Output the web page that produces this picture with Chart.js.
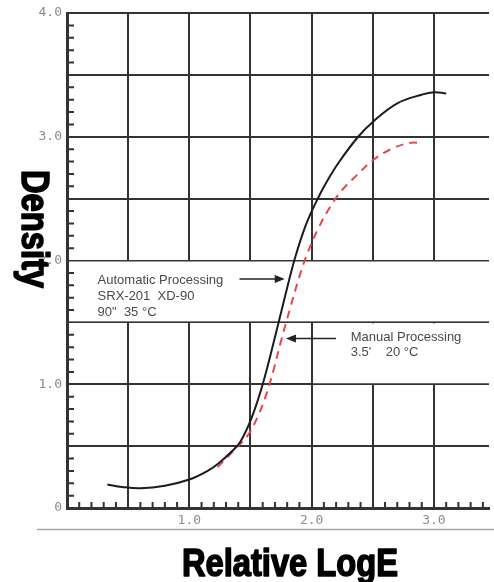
<!DOCTYPE html>
<html>
<head>
<meta charset="utf-8">
<script src="https://cdn.jsdelivr.net/npm/chart.js"></script>
<style>
  body { margin: 0; background: #fff; }
  #density_chart { display: block; }
</style>
</head>
<body>
<canvas id="density_chart" width="494" height="582"></canvas>
<script>
// characteristic curves
var autoLogE      = [0.33, 0.45, 0.6, 0.8, 1.0, 1.15, 1.25, 1.35, 1.42, 1.51, 1.6, 1.7, 1.8, 1.87, 1.95, 2.04, 2.12, 2.22, 2.38, 2.5, 2.7, 2.9, 3.0, 3.1];
var autoDensity   = [0.19, 0.17, 0.16, 0.18, 0.23, 0.30, 0.37, 0.46, 0.54, 0.73, 1.0, 1.38, 1.78, 2.04, 2.28, 2.48, 2.63, 2.79, 3.0, 3.12, 3.27, 3.34, 3.36, 3.35];
var manualLogE    = [1.23, 1.37, 1.48, 1.56, 1.63, 1.69, 1.75, 1.82, 1.9, 1.97, 2.06, 2.15, 2.25, 2.37, 2.5, 2.65, 2.8, 2.9];
var manualDensity = [0.33, 0.47, 0.59, 0.74, 0.92, 1.12, 1.35, 1.60, 1.87, 2.07, 2.27, 2.43, 2.57, 2.69, 2.81, 2.90, 2.95, 2.95];

var xLabelValues = [1, 2, 3];
var xLabels      = ['1.0', '2.0', '3.0'];
var yLabelValues = [0, 1, 2, 3, 4];
var yLabels      = ['0', '1.0', '2.0', '3.0', '4.0'];

var autoNote   = ['Automatic Processing', 'SRX-201  XD-90', '90"  35 \u00B0C'];
var manualNote = ['Manual Processing', "3.5'    20 \u00B0C"];

function toPoints(xs, ys) {
    var pts = [];
    for (let i = 0; i < xs.length; i++) {
        pts.push({x: xs[i], y: ys[i]});
    }
    return pts;
}

function arrow(ctx, x1, y1, x2, y2) {
    var dir = x2 > x1 ? 1 : -1;
    ctx.beginPath();
    ctx.moveTo(x1, y1);
    ctx.lineTo(x2 - dir * 8, y2);
    ctx.stroke();
    ctx.beginPath();
    ctx.moveTo(x2, y2);
    ctx.lineTo(x2 - dir * 10, y2 - 4);
    ctx.lineTo(x2 - dir * 10, y2 + 4);
    ctx.closePath();
    ctx.fill();
}

function boldText(ctx, text) {
    ctx.fillText(text, 0, 0);
    ctx.strokeText(text, 0, 0);
}

var sheetExtras = {
    id: 'sheetExtras',
    beforeDatasetsDraw: function (chart) {
        var ctx = chart.ctx, x = chart.scales.x, y = chart.scales.y, area = chart.chartArea;
        ctx.save();
        // the notes sit on white, grid lines stop there
        ctx.fillStyle = '#fff';
        var x0 = x.getPixelForValue(0) + 2;
        ctx.fillRect(x0, y.getPixelForValue(2.0) + 1, area.right - x0, y.getPixelForValue(1.5) - y.getPixelForValue(2.0) - 2);
        var x2 = x.getPixelForValue(2.0) + 1.5;
        ctx.fillRect(x2, y.getPixelForValue(1.5) + 1, area.right - x2, y.getPixelForValue(1.0) - y.getPixelForValue(1.5) - 2);

        // minor ticks pointing inward
        ctx.strokeStyle = '#333';
        ctx.lineWidth = 2;
        ctx.beginPath();
        for (let i = 1; i < 40; i++) {
            if (i % 5 == 0) continue;
            var py = y.getPixelForValue(i / 10);
            ctx.moveTo(area.left, py);
            ctx.lineTo(area.left + 7, py);
        }
        for (let j = 1; j < 35; j++) {
            if (j % 5 == 0) continue;
            var px = x.getPixelForValue(j / 10);
            ctx.moveTo(px, area.bottom);
            ctx.lineTo(px, area.bottom - 6);
        }
        ctx.stroke();
        ctx.restore();
    },
    afterDraw: function (chart) {
        var ctx = chart.ctx, x = chart.scales.x, y = chart.scales.y;
        ctx.save();

        // notes + arrows
        ctx.fillStyle = '#4a4a4a';
        ctx.strokeStyle = '#222';
        ctx.lineWidth = 1.5;
        ctx.font = '13px "Liberation Sans", Arial, sans-serif';
        ctx.textAlign = 'left';
        ctx.textBaseline = 'middle';
        var ax = x.getPixelForValue(0.25), ay = y.getPixelForValue(1.84);
        for (let i = 0; i < autoNote.length; i++) {
            ctx.fillText(autoNote[i], ax, ay + i * 16);
        }
        var mx = x.getPixelForValue(2.32), my = y.getPixelForValue(1.38);
        for (let i = 0; i < manualNote.length; i++) {
            ctx.fillText(manualNote[i], mx, my + i * 15);
        }
        ctx.fillStyle = '#222';
        arrow(ctx, x.getPixelForValue(1.41), y.getPixelForValue(1.85), x.getPixelForValue(1.78), y.getPixelForValue(1.85));
        arrow(ctx, x.getPixelForValue(2.2), y.getPixelForValue(1.37), x.getPixelForValue(1.79), y.getPixelForValue(1.37));

        // rule under the axis
        ctx.strokeStyle = '#a6a6a6';
        ctx.lineWidth = 1.5;
        ctx.beginPath();
        ctx.moveTo(37, 529.5);
        ctx.lineTo(chart.width, 529.5);
        ctx.stroke();

        // axis titles, heavy
        ctx.fillStyle = '#000';
        ctx.strokeStyle = '#000';
        ctx.lineWidth = 1.6;
        ctx.lineJoin = 'round';
        ctx.font = 'bold 38px "Liberation Sans", Arial, sans-serif';
        ctx.textAlign = 'center';
        ctx.textBaseline = 'alphabetic';
        ctx.save();
        ctx.translate(290, 576);
        ctx.scale(0.86, 1);
        boldText(ctx, 'Relative LogE');
        ctx.restore();
        ctx.save();
        ctx.translate(22, 229);
        ctx.rotate(Math.PI / 2);
        ctx.scale(0.86, 1);
        boldText(ctx, 'Density');
        ctx.restore();

        ctx.restore();
    }
};

function gridColor(c) {
    return c.tick && c.tick.value % 0.5 === 0 ? '#333' : 'rgba(0,0,0,0)';
}

var chartdata = {
    datasets: [
        {
            label: 'Automatic Processing',
            data: toPoints(autoLogE, autoDensity),
            borderColor: '#1c1c1c',
            borderWidth: 2,
            pointRadius: 0,
            tension: 0.4,
            fill: false
        },
        {
            label: 'Manual Processing',
            data: toPoints(manualLogE, manualDensity),
            borderColor: '#e8474a',
            borderWidth: 2,
            borderDash: [8, 6],
            pointRadius: 0,
            tension: 0.4,
            fill: false
        }
    ]
};

new Chart(document.getElementById('density_chart'), {
    type: 'line',
    data: chartdata,
    plugins: [sheetExtras],
    options: {
        responsive: false,
        animation: false,
        layout: { padding: { top: 13, left: 0, right: 0, bottom: 0 } },
        plugins: { legend: { display: false }, tooltip: { enabled: false } },
        scales: {
            x: {
                type: 'linear',
                min: 0,
                max: 3.45,
                afterFit: function (scale) { scale.height = 74; },
                border: { color: '#333', width: 3 },
                grid: { color: gridColor, lineWidth: 2, drawTicks: false },
                ticks: {
                    stepSize: 0.5,
                    autoSkip: false,
                    maxRotation: 0,
                    padding: 5,
                    color: '#8c8c8c',
                    font: { family: '"DejaVu Sans Mono", monospace', size: 13 },
                    callback: function (value) {
                        var k = xLabelValues.indexOf(value);
                        return k >= 0 ? xLabels[k] : '';
                    }
                }
            },
            y: {
                min: 0,
                max: 4,
                afterFit: function (scale) { scale.width = 67; },
                border: { color: '#333', width: 3 },
                grid: { color: gridColor, lineWidth: 2, drawTicks: false },
                ticks: {
                    stepSize: 0.5,
                    autoSkip: false,
                    padding: 5,
                    color: '#8c8c8c',
                    font: { family: '"DejaVu Sans Mono", monospace', size: 13 },
                    callback: function (value) {
                        var k = yLabelValues.indexOf(value);
                        return k >= 0 ? yLabels[k] : '';
                    }
                }
            }
        }
    }
});
</script>
</body>
</html>
